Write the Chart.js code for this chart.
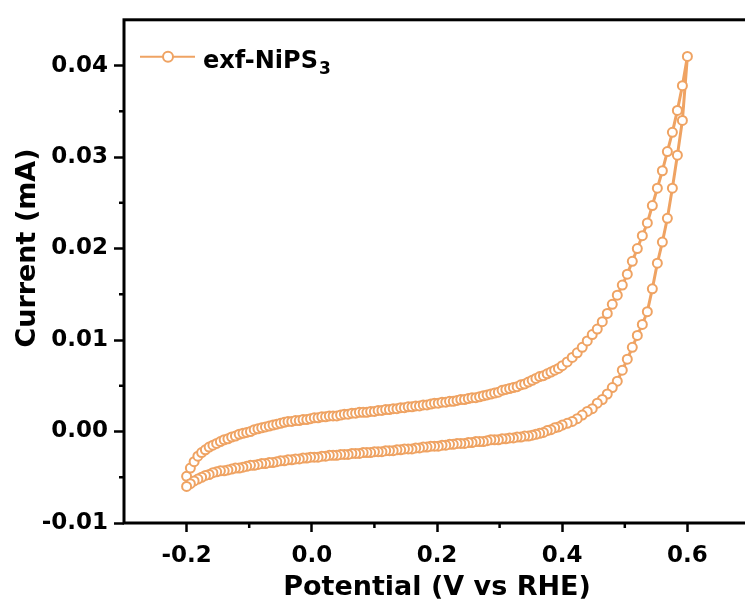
<!DOCTYPE html>
<html>
<head>
<meta charset="utf-8">
<script src="https://cdn.jsdelivr.net/npm/chart.js@4.4.1/dist/chart.umd.min.js"></script>
<style>
    html, body { margin: 0; padding: 0; background: #fff; overflow: hidden; }
    #box { width: 760px; height: 608px; }
</style>
</head>
<body>
<div id="box"><canvas id="cvChart" width="760" height="608"></canvas></div>
<script>
    /* Data: potential (V vs RHE), forward and return scan current (mA) */
    const potential = [
        -0.2, -0.194, -0.188, -0.182, -0.176, -0.17, -0.164, -0.158, -0.152, -0.146,
        -0.14, -0.134, -0.128, -0.122, -0.116, -0.11, -0.104, -0.098, -0.092, -0.086,
        -0.08, -0.074, -0.068, -0.062, -0.056, -0.05, -0.044, -0.038, -0.032, -0.026,
        -0.02, -0.014, -0.008, -0.002, 0.004, 0.01, 0.016, 0.022, 0.028, 0.034,
        0.04, 0.046, 0.052, 0.058, 0.064, 0.07, 0.076, 0.082, 0.088, 0.094,
        0.1, 0.106, 0.112, 0.118, 0.124, 0.13, 0.136, 0.142, 0.148, 0.154,
        0.16, 0.166, 0.172, 0.178, 0.184, 0.19, 0.196, 0.202, 0.208, 0.214,
        0.22, 0.226, 0.232, 0.238, 0.244, 0.25, 0.256, 0.262, 0.268, 0.274,
        0.28, 0.286, 0.292, 0.298, 0.304, 0.31, 0.316, 0.322, 0.328, 0.334,
        0.34, 0.346, 0.352, 0.358, 0.364, 0.37, 0.376, 0.382, 0.388, 0.394,
        0.4, 0.408, 0.416, 0.424, 0.432, 0.44, 0.448, 0.456, 0.464, 0.472,
        0.48, 0.488, 0.496, 0.504, 0.512, 0.52, 0.528, 0.536, 0.544, 0.552,
        0.56, 0.568, 0.576, 0.584, 0.592, 0.6
    ];
    const currentForward = [
        -0.0049, -0.0040, -0.0033, -0.0027, -0.0023, -0.0020, -0.0017, -0.0015, -0.0013, -0.0011,
        -0.0009, -0.0008, -0.0006, -0.0005, -0.0003, -0.0002, -0.0001, 0.0000, 0.0002, 0.0003,
        0.0004, 0.0005, 0.0006, 0.0007, 0.0008, 0.0009, 0.0010, 0.0011, 0.0011, 0.0012,
        0.0012, 0.0013, 0.0013, 0.0014, 0.0015, 0.0015, 0.0016, 0.0016, 0.0017, 0.0017,
        0.0017, 0.0018, 0.0019, 0.0019, 0.0020, 0.0020, 0.0021, 0.0021, 0.0021, 0.0022,
        0.0022, 0.0023, 0.0023, 0.0024, 0.0024, 0.0025, 0.0025, 0.0026, 0.0026, 0.0027,
        0.0027, 0.0028, 0.0028, 0.0029, 0.0029, 0.0030, 0.0031, 0.0031, 0.0032, 0.0032,
        0.0033, 0.0033, 0.0034, 0.0035, 0.0035, 0.0036, 0.0037, 0.0037, 0.0038, 0.0039,
        0.0040, 0.0041, 0.0042, 0.0043, 0.0045, 0.0046, 0.0047, 0.0048, 0.0049, 0.0051,
        0.0052, 0.0054, 0.0056, 0.0058, 0.0060, 0.0061, 0.0063, 0.0065, 0.0067, 0.0069,
        0.0072, 0.0076, 0.0081, 0.0086, 0.0092, 0.0099, 0.0106, 0.0112, 0.0120, 0.0129,
        0.0139, 0.0149, 0.0160, 0.0172, 0.0186, 0.0200, 0.0214, 0.0228, 0.0247, 0.0266,
        0.0285, 0.0306, 0.0327, 0.0351, 0.0378, 0.0410
    ];
    const currentReturn = [
        -0.0060, -0.0057, -0.0054, -0.0052, -0.0050, -0.0048, -0.0047, -0.0045, -0.0044, -0.0043,
        -0.0043, -0.0042, -0.0041, -0.0040, -0.0040, -0.0039, -0.0038, -0.0037, -0.0037, -0.0036,
        -0.0035, -0.0035, -0.0034, -0.0034, -0.0033, -0.0032, -0.0032, -0.0031, -0.0031, -0.0030,
        -0.0030, -0.0029, -0.0029, -0.0028, -0.0028, -0.0028, -0.0027, -0.0027, -0.0026, -0.0026,
        -0.0026, -0.0025, -0.0025, -0.0025, -0.0024, -0.0024, -0.0024, -0.0023, -0.0023, -0.0023,
        -0.0022, -0.0022, -0.0022, -0.0021, -0.0021, -0.0021, -0.0020, -0.0020, -0.0019, -0.0019,
        -0.0019, -0.0018, -0.0018, -0.0017, -0.0017, -0.0016, -0.0016, -0.0016, -0.0015, -0.0015,
        -0.0014, -0.0014, -0.0013, -0.0013, -0.0013, -0.0012, -0.0012, -0.0011, -0.0011, -0.0011,
        -0.0010, -0.0009, -0.0009, -0.0009, -0.0008, -0.0008, -0.0007, -0.0007, -0.0006, -0.0006,
        -0.0005, -0.0005, -0.0004, -0.0003, -0.0002, -0.0001, 0.0001, 0.0002, 0.0004, 0.0005,
        0.0007, 0.0009, 0.0011, 0.0014, 0.0018, 0.0022, 0.0025, 0.0031, 0.0035, 0.0041,
        0.0048, 0.0055, 0.0067, 0.0079, 0.0092, 0.0105, 0.0117, 0.0131, 0.0156, 0.0184,
        0.0207, 0.0233, 0.0266, 0.0302, 0.0340, 0.0410
    ];
    const seriesLabel = 'exf-NiPS';
    const seriesSub = '3';

    const orange = 'rgb(239, 163, 99)';
    const FONT = "'DejaVu Sans', sans-serif";

    // build the loop: forward scan, then return scan back to -0.2 V
    var points = [];
    var i;
    for (i = 0; i < potential.length; i++) {
        points.push({ x: potential[i], y: currentForward[i] });
    }
    for (i = potential.length - 2; i >= 0; i--) {
        points.push({ x: potential[i], y: currentReturn[i] });
    }

    const isMajorY = v => Math.abs(Math.round(v * 1000)) % 10 === 0;
    const isMajorX = v => Math.abs(Math.round(v * 10)) % 2 === 0;

    /* frame, minor ticks, legend and y title */
    const decor = {
        id: 'decor',
        afterDraw(chart) {
            const c = chart.ctx;
            const a = chart.chartArea;
            c.save();
            c.strokeStyle = '#000';
            c.lineWidth = 3;
            c.strokeRect(a.left, a.top, a.right - a.left, a.bottom - a.top);

            // minor ticks
            c.lineWidth = 2.5;
            const sx = chart.scales.x, sy = chart.scales.y;
            sy.ticks.forEach(t => {
                if (isMajorY(t.value) || t.value <= sy.min || t.value >= sy.max) return;
                const p = sy.getPixelForValue(t.value);
                c.beginPath(); c.moveTo(a.left - 5, p); c.lineTo(a.left, p); c.stroke();
            });
            sx.ticks.forEach(t => {
                if (isMajorX(t.value) || t.value <= sx.min || t.value >= sx.max) return;
                const p = sx.getPixelForValue(t.value);
                c.beginPath(); c.moveTo(p, a.bottom); c.lineTo(p, a.bottom + 5); c.stroke();
            });

            // legend
            const ly = a.top + 37;
            c.strokeStyle = orange;
            c.lineWidth = 2;
            c.beginPath(); c.moveTo(a.left + 16, ly); c.lineTo(a.left + 71, ly); c.stroke();
            c.beginPath(); c.arc(a.left + 44, ly, 5, 0, Math.PI * 2);
            c.fillStyle = '#fff'; c.fill(); c.stroke();
            c.fillStyle = '#000';
            c.textBaseline = 'alphabetic';
            c.textAlign = 'left';
            c.font = 'bold 24px ' + FONT;
            c.fillText(seriesLabel, a.left + 79, ly + 11);
            const w = c.measureText(seriesLabel).width;
            c.font = 'bold 17px ' + FONT;
            c.fillText(seriesSub, a.left + 80 + w, ly + 17);

            // y axis title
            c.translate(28, 248);
            c.rotate(-Math.PI / 2);
            c.textAlign = 'center';
            c.textBaseline = 'middle';
            c.font = 'bold 27px ' + FONT;
            c.fillText('Current (mA)', 0, 0);
            c.restore();
        }
    };

    Chart.defaults.font.family = FONT;
    Chart.defaults.color = '#000';

    const cvConfig = {
        type: 'line',
        data: {
            datasets: [{
                label: seriesLabel + seriesSub,
                data: points,
                borderColor: orange,
                backgroundColor: '#fff',
                borderWidth: 3,
                pointRadius: 4.5,
                pointBorderWidth: 2,
                pointBackgroundColor: '#fff',
                pointBorderColor: orange,
                tension: 0,
                fill: false,
            }]
        },
        options: {
            responsive: false,
            animation: false,
            layout: {
                padding: { left: 0, top: 15, right: 7, bottom: 0 }
            },
            plugins: {
                legend: { display: false },
                tooltip: { enabled: false },
            },
            scales: {
                x: {
                    type: 'linear',
                    min: -0.3,
                    max: 0.7,
                    afterFit: s => { s.height = 85; },
                    border: { display: false },
                    grid: {
                        drawOnChartArea: false,
                        drawTicks: true,
                        tickLength: 9,
                        tickWidth: 2.5,
                        tickColor: ctx => isMajorX(ctx.tick.value) ? '#000' : 'rgba(0,0,0,0)',
                    },
                    ticks: {
                        stepSize: 0.1,
                        padding: 10,
                        maxRotation: 0,
                        autoSkip: false,
                        font: { size: 23, weight: 'bold' },
                        callback: v => isMajorX(v) && v > -0.3 && v < 0.7 ? v.toFixed(1) : '',
                    },
                    title: {
                        display: true,
                        text: 'Potential (V vs RHE)',
                        font: { size: 27, weight: 'bold' },
                        padding: { top: 0, bottom: 4 },
                    }
                },
                y: {
                    type: 'linear',
                    min: -0.01,
                    max: 0.045,
                    afterFit: s => { s.width = 124; },
                    border: { display: false },
                    grid: {
                        drawOnChartArea: false,
                        drawTicks: true,
                        tickLength: 10,
                        tickWidth: 2.5,
                        tickColor: ctx => isMajorY(ctx.tick.value) ? '#000' : 'rgba(0,0,0,0)',
                    },
                    ticks: {
                        stepSize: 0.005,
                        padding: 6,
                        autoSkip: false,
                        font: { size: 23, weight: 'bold' },
                        callback: v => isMajorY(v) && v < 0.045 ? v.toFixed(2) : '',
                    }
                }
            }
        },
        plugins: [decor]
    };

    var ctx = document.getElementById('cvChart').getContext('2d');
    window.cvChart = new Chart(ctx, cvConfig);
</script>
</body>
</html>
